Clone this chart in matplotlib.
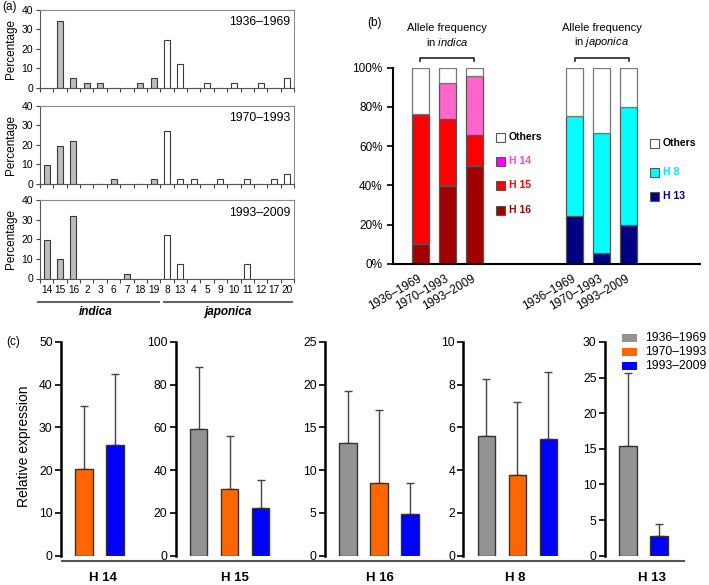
# 品種グループ別の対立遺伝子頻度と発現量 (a, b, c の3パネル)
import matplotlib
matplotlib.use("Agg")
import matplotlib.pyplot as plt
from matplotlib.patches import Rectangle
import numpy as np

#### -------- データ -------- ####
# (a) 対立遺伝子ごとの割合 (%)
cats_indica = ["14", "15", "16", "2", "3", "6", "7", "18", "19"]
cats_japonica = ["8", "13", "4", "5", "9", "10", "11", "12", "17", "20"]
pct_1936 = [0, 34.1, 4.9, 2.4, 2.4, 0, 0, 2.4, 4.9,
            24.4, 12.2, 0, 2.4, 0, 2.4, 0, 2.4, 0, 4.9]
pct_1970 = [9.8, 19.5, 22.0, 0, 0, 2.4, 0, 0, 2.4,
            26.8, 2.4, 2.4, 0, 2.4, 0, 2.4, 0, 2.4, 4.9]
pct_1993 = [19.5, 9.8, 31.7, 0, 0, 0, 2.4, 0, 0,
            22.0, 7.3, 0, 0, 0, 0, 7.3, 0, 0, 0]
periods = ["1936–1969", "1970–1993", "1993–2009"]

# (b) 積み上げ頻度 (%)
indica_h16 = [10.0, 39.5, 50.0]
indica_h15 = [66.5, 34.5, 15.5]
indica_h14 = [0.0, 18.0, 30.5]
japonica_h13 = [24.5, 5.5, 20.0]
japonica_h8 = [51.0, 61.0, 60.0]

# (c) 相対発現量 (平均, SD)
genes = ["H 14", "H 15", "H 16", "H 8", "H 13"]
gene_periods = [[1, 2], [0, 1, 2], [0, 1, 2], [0, 1, 2], [0, 2]]
expr_mean = [[20.3, 26.0], [59.3, 31.0, 22.4], [13.2, 8.45, 4.9],
             [5.58, 3.77, 5.45], [15.4, 2.8]]
expr_sd = [[14.7, 16.5], [28.9, 25.1, 13.0], [6.1, 8.55, 3.55],
           [2.7, 3.43, 3.15], [10.2, 1.7]]
expr_ymax = [50, 100, 25, 10, 30]
expr_ystep = [10, 20, 5, 2, 5]

#### -------- グラフ設定 -------- ####
plt.rcParams["font.family"] = ["Liberation Sans", "DejaVu Sans"]
plt.rcParams["mathtext.fontset"] = "custom"
plt.rcParams["mathtext.rm"] = "Liberation Sans"
plt.rcParams["mathtext.it"] = "Liberation Sans:italic"
plt.rcParams["xtick.direction"] = "out"
plt.rcParams["ytick.direction"] = "out"

W, H = 709, 585
fig = plt.figure(figsize=(W / 100, H / 100), dpi=100)


def px_axes(left, top, right, bottom):
    return fig.add_axes([left / W, 1 - bottom / H, (right - left) / W, (bottom - top) / H])


# 注釈用の全面オーバーレイ (ピクセル座標)
ov = fig.add_axes([0, 0, 1, 1], zorder=5)
ov.set_xlim(0, W)
ov.set_ylim(H, 0)
ov.axis("off")

#### -------- (a) -------- ####
cats = cats_indica + cats_japonica
bar_colors = ["#bdbdbd"] * len(cats_indica) + ["white"] * len(cats_japonica)
x = np.arange(len(cats))
for k, (vals, top) in enumerate(zip([pct_1936, pct_1970, pct_1993], [9.5, 105.5, 200])):
    ax = px_axes(40, top, 294, top + 78.5)
    ax.bar(x, vals, width=0.45, color=bar_colors, edgecolor="#3a3a3a", lw=0.8)
    ax.set_xlim(-0.5, len(cats) - 0.5)
    ax.set_ylim(0, 40)
    ax.set_yticks([0, 10, 20, 30, 40])
    ax.set_xticks(np.arange(-0.5, len(cats), 1))
    ax.set_xticklabels([])
    ax.set_xticks(x, minor=True)
    if k == 2:
        ax.set_xticklabels(cats, minor=True, fontsize=7.3)
    ax.tick_params(axis="x", which="minor", length=0, pad=5)
    ax.tick_params(axis="x", which="major", length=3, color="#444")
    ax.tick_params(axis="y", length=3, labelsize=7.5, pad=2, color="#444")
    for s in ax.spines.values():
        s.set_color("#8a8a8a")
    ax.spines["left"].set_color("#555")
    ax.spines["bottom"].set_color("#555")
    ax.set_ylabel("Percentage", fontsize=8.5)
    ax.yaxis.set_label_coords(-0.09, 0.5)
    ax.text(0.985, 0.84, periods[k], transform=ax.transAxes, ha="right", va="center", fontsize=8.7)

ov.plot([38, 159], [302, 302], color="#666", lw=1.5)
ov.plot([164, 292], [302, 302], color="#666", lw=1.5)
ov.text(96, 312, "indica", ha="center", va="center", fontsize=8.5, fontweight="bold", style="italic")
ov.text(228, 312, "japonica", ha="center", va="center", fontsize=8.5, fontweight="bold", style="italic")

#### -------- (b) -------- ####
axb = px_axes(393, 67.7, 700, 264)
unit = 27.0
axb.set_xlim(0, 307 / unit)
axb.set_ylim(0, 100)
pos_ind = 1.02 + np.arange(3)
pos_jap = 6.72 + np.arange(3)
bw = 0.65
ec = "#555"
b0 = np.zeros(3)
for vals, col in [(indica_h16, "#a00000"), (indica_h15, "#ff0000"), (indica_h14, "#ff66cc")]:
    axb.bar(pos_ind, vals, bottom=b0, width=bw, color=col, edgecolor=ec, lw=0.9)
    b0 = b0 + np.array(vals)
axb.bar(pos_ind, 100 - b0, bottom=b0, width=bw, color="white", edgecolor="#777", lw=0.9)
b0 = np.zeros(3)
for vals, col in [(japonica_h13, "#000080"), (japonica_h8, "#00ffff")]:
    axb.bar(pos_jap, vals, bottom=b0, width=bw, color=col, edgecolor=ec, lw=0.9)
    b0 = b0 + np.array(vals)
axb.bar(pos_jap, 100 - b0, bottom=b0, width=bw, color="white", edgecolor="#777", lw=0.9)

axb.set_yticks(np.arange(0, 101, 20))
axb.set_yticklabels([f"{v}%" for v in range(0, 101, 20)], fontsize=8.5)
axb.set_xticks(np.concatenate([pos_ind, pos_jap]))
axb.set_xticklabels(periods * 2, rotation=30, ha="right", va="center",
                    rotation_mode="anchor", fontsize=8.5)
axb.tick_params(axis="x", length=0, pad=10)
axb.tick_params(axis="y", length=4, width=1.2)
axb.spines["top"].set_visible(False)
axb.spines["right"].set_visible(False)
axb.spines["left"].set_linewidth(1.5)
axb.spines["bottom"].set_linewidth(1.5)

# タイトルと括弧
for cx, name in [(447, "indica"), (601.5, "japonica")]:
    ov.text(cx, 28, "Allele frequency", ha="center", va="center", fontsize=8)
    ov.text(cx, 42, "in $\\mathit{" + name + "}$", ha="center", va="center", fontsize=8)
    ov.plot([cx - 27, cx - 27, cx + 27, cx + 27], [61, 58, 58, 61], color="#222", lw=1.2)

# 凡例 (b)
leg_ind = [("Others", "white", "black"), ("H 14", "#ff00ff", "#ff44dd"),
           ("H 15", "#ff0000", "#ff0000"), ("H 16", "#a00000", "#a00000")]
for (lab, fc, tc), y in zip(leg_ind, [137, 161, 185, 210]):
    ov.add_patch(Rectangle((496, y - 4.5), 8.5, 9, facecolor=fc, edgecolor="#555", lw=0.8))
    ov.text(509, y, lab, color=tc, fontsize=7.5, fontweight="bold", va="center")
leg_jap = [("Others", "white", "black"), ("H 8", "#00ffff", "#00e5ff"), ("H 13", "#000080", "#000080")]
for (lab, fc, tc), y in zip(leg_jap, [143, 172, 196]):
    ov.add_patch(Rectangle((650, y - 4.5), 8.5, 9, facecolor=fc, edgecolor="#555", lw=0.8))
    ov.text(663, y, lab, color=tc, fontsize=7.5, fontweight="bold", va="center")

#### -------- (c) -------- ####
period_colors = ["#939393", "#ff6600", "#0000ff"]
c_left = [61, 175.7, 325, 463.3, 605]
step = 31.0
for i, gene in enumerate(genes):
    ax = px_axes(c_left[i], 342, c_left[i] + 105, 555.7)
    xs = np.arange(len(expr_mean[i]))
    cols = [period_colors[p] for p in gene_periods[i]]
    ax.bar(xs, expr_mean[i], width=0.56, color=cols, edgecolor="#333", lw=1.0, zorder=3)
    ax.errorbar(xs, expr_mean[i], yerr=[np.zeros(len(xs)), expr_sd[i]], fmt="none",
                ecolor="#444", elinewidth=1.0, capsize=3, capthick=1.0, zorder=2)
    ax.set_xlim(-0.74, -0.74 + 105 / step)
    ax.set_ylim(0, expr_ymax[i])
    ax.set_yticks(np.arange(0, expr_ymax[i] + 0.1, expr_ystep[i]))
    ax.set_xticks([])
    for s in ["top", "right", "bottom"]:
        ax.spines[s].set_visible(False)
    ax.spines["left"].set_linewidth(1.8)
    ax.tick_params(axis="y", length=4, width=1.2, labelsize=8.7, pad=2)
    ax.patch.set_visible(False)
    if i == 0:
        ax.set_ylabel("Relative expression", fontsize=10)
        ax.yaxis.set_label_coords(-0.29, 0.51)

ov.plot([62, 684], [561, 561], color="#555", lw=1.5)
for gx, gene in zip([103, 235, 380, 515, 652], genes):
    ov.text(gx, 578, gene, ha="center", va="center", fontsize=9.5, fontweight="bold")

# 凡例 (c)
for col, lab, y in zip(period_colors, periods, [338, 352, 366]):
    ov.add_patch(Rectangle((622, y - 4), 15, 8, facecolor=col, edgecolor="none"))
    ov.text(645, y, lab, fontsize=8.7, va="center")

#### -------- パネルラベル -------- ####
ov.text(2, 7, "(a)", fontsize=8.5, va="center")
ov.text(375, 23, "(b)", fontsize=8.5, ha="center", va="center")
ov.text(13, 342, "(c)", fontsize=8.5, ha="center", va="center")

#### -------- 保存 -------- ####
fig.savefig("out.png", dpi=100)
print("画像の保存が完了しました")
